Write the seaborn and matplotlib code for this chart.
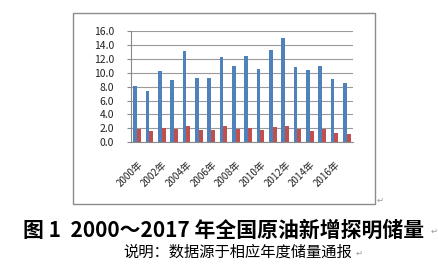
import matplotlib
matplotlib.use("Agg")
import matplotlib.pyplot as plt
import seaborn as sns
import pandas as pd
import numpy as np
from matplotlib.patches import Rectangle
from matplotlib.ticker import FixedLocator, FormatStrFormatter

years = [str(y) for y in range(2000, 2018)]
geo_reserves = [8.1, 7.4, 10.3, 8.9, 13.1, 9.2, 9.2, 12.2, 11.0, 12.4, 10.5, 13.2, 15.0, 10.8, 10.4, 11.0, 9.1, 8.5]
rec_reserves = [1.9, 1.6, 2.1, 1.9, 2.3, 1.8, 1.8, 2.3, 1.9, 2.1, 1.8, 2.25, 2.3, 1.9, 1.6, 1.9, 1.4, 1.2]
series_names = ["新增探明地质储量", "新增探明技术可采储量"]
tick_labels = [f"{y}年" if (int(y) % 2 == 0) else "" for y in years]
y_ticks = [0, 2, 4, 6, 8, 10, 12, 14, 16]
title_text = "图 1  2000～2017 年全国原油新增探明储量"
note_text = "说明：数据源于相应年度储量通报"

df = pd.DataFrame({
    "year": years * 2,
    "value": geo_reserves + rec_reserves,
    "series": [series_names[0]] * len(years) + [series_names[1]] * len(years),
})

sns.set_style("white")
plt.rcParams["font.family"] = ["Noto Sans CJK SC", "DejaVu Sans"]

fig = plt.figure(figsize=(4.39, 2.80), dpi=100)
W, H = 439, 280

def fx(px):
    return px / W

def fy(py):
    return 1 - py / H

# outer frame
fig.patches.append(Rectangle((fx(73), fy(204)), fx(375) - fx(73), fy(13) - fy(204),
                             transform=fig.transFigure, fill=False, edgecolor="#8c8c8c",
                             linewidth=1.0, zorder=0))

ax = fig.add_axes([fx(131), fy(142.3), fx(353) - fx(131), fy(31) - fy(142.3)])
sns.barplot(data=df, x="year", y="value", hue="series",
            palette=["#4F81BD", "#C0504D"], width=0.64, legend=False,
            saturation=1, linewidth=0, ax=ax, zorder=3)

ax.set_ylim(0, 16)
ax.set_xlim(-0.5, len(years) - 0.5)
ax.yaxis.set_major_locator(FixedLocator(y_ticks))
ax.yaxis.set_major_formatter(FormatStrFormatter("%.1f"))
ax.grid(axis="y", color="#9a9a9a", linewidth=0.8, zorder=0)
ax.set_axisbelow(True)
for s in ["top", "right"]:
    ax.spines[s].set_visible(False)
for s in ["left", "bottom"]:
    ax.spines[s].set_color("#8a8a8a")
    ax.spines[s].set_linewidth(0.8)

ax.set_xlabel("")
ax.set_ylabel("")
ax.set_xticks(range(len(years)))
ax.set_xticklabels(tick_labels, rotation=45, ha="right", rotation_mode="anchor",
                   fontsize=7, color="#222222")
ax.tick_params(axis="x", which="major", length=0, pad=12)
ax.set_xticks(np.arange(-0.5, len(years), 1), minor=True)
ax.tick_params(axis="x", which="minor", length=3, color="#8a8a8a", width=0.8, direction="out")
ax.tick_params(axis="y", length=3, color="#8a8a8a", width=0.8, labelsize=7.5,
               labelcolor="#222222", pad=9, direction="out")
ax.tick_params(axis="y", left=True)

fig.text(fx(224), fy(230.5), title_text, ha="center", va="center",
         fontsize=15, fontweight="bold", color="black")
fig.text(fx(237.5), fy(252.5), note_text, ha="center", va="center",
         fontsize=11, color="black")
for (px, py) in [(434, 231), (359, 253), (380, 200)]:
    fig.text(fx(px), fy(py), "↵", ha="center", va="center", fontsize=6,
             color="#999999", family=["DejaVu Sans"])

fig.savefig("out.png", dpi=100)
